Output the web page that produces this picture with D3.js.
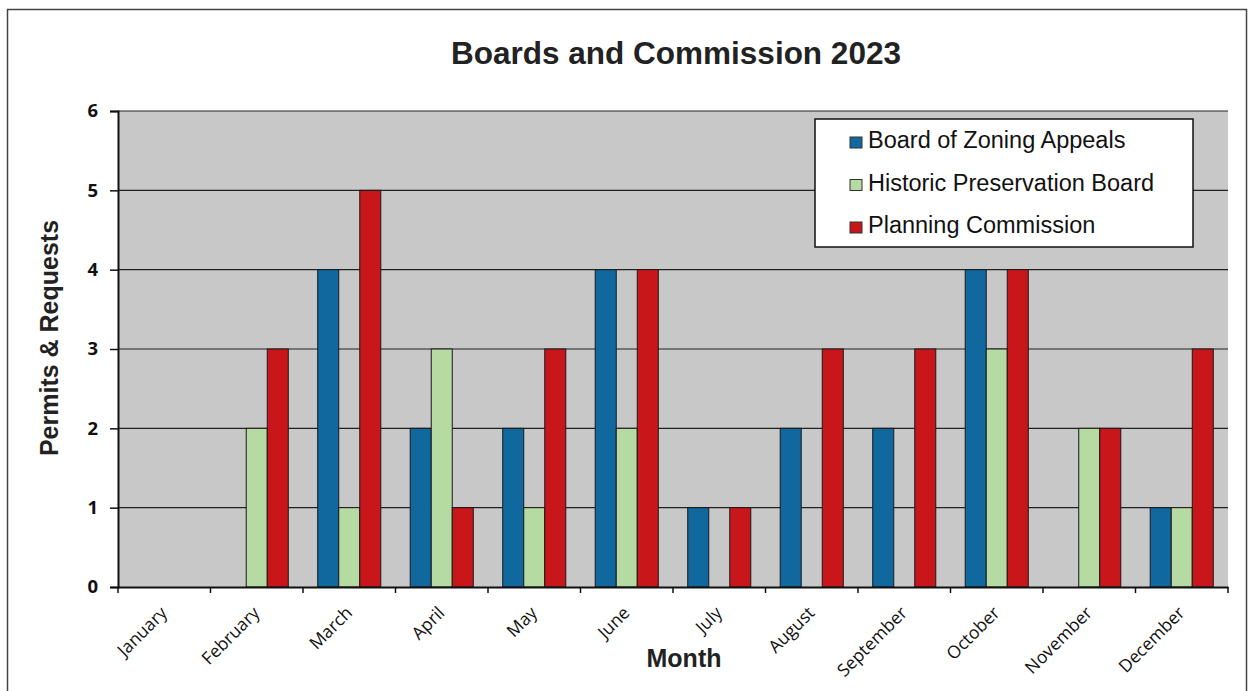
<!DOCTYPE html>
<html><head><meta charset="utf-8">
<script src="https://cdn.jsdelivr.net/npm/d3@7"></script>
<style>body{margin:0;background:#fff}svg{display:block}</style>
</head><body>
<svg id="chart" width="1255" height="691"></svg>
<script>
const months = ["January","February","March","April","May","June","July","August","September","October","November","December"];
const seriesNames = ["Board of Zoning Appeals","Historic Preservation Board","Planning Commission"];
const zoning = [0,0,4,2,2,4,1,2,2,4,0,1];
const historic = [0,2,1,3,1,2,0,0,0,3,2,1];
const planning = [0,3,5,1,3,4,1,3,3,4,2,3];
const yTicks = [0,1,2,3,4,5,6];
const colors = ["#10689f","#b5dba2","#c9161b"];

const svg = d3.select("#chart");
const m = {left:118, right:1228, top:111, bottom:587};
svg.append("rect").attr("x",7.5).attr("y",9.5).attr("width",1239).attr("height",700)
  .attr("fill","#fff").attr("stroke","#444").attr("stroke-width",1.5);

const x = d3.scaleBand().domain(months).range([m.left,m.right]);
const xs = d3.scaleBand().domain(seriesNames).range([0,x.bandwidth()]).paddingOuter(0.7).paddingInner(0);
const y = d3.scaleLinear().domain([0,6]).range([m.bottom,m.top]);

svg.append("rect").attr("x",m.left).attr("y",m.top).attr("width",m.right-m.left).attr("height",m.bottom-m.top).attr("fill","#c8c8c8");

// gridlines
svg.append("g").selectAll("line").data(yTicks.filter(d=>d>0)).join("line")
  .attr("x1",m.left).attr("x2",m.right).attr("y1",d=>y(d)).attr("y2",d=>y(d))
  .attr("stroke","#222").attr("stroke-width",1.2);

const data = [zoning,historic,planning];
const g = svg.append("g");
months.forEach((mo,i)=>{
  seriesNames.forEach((s,j)=>{
    const v = data[j][i];
    if(v<=0) return;
    g.append("rect").attr("x",x(mo)+xs(s)).attr("y",y(v)).attr("width",xs.bandwidth()).attr("height",y(0)-y(v))
      .attr("fill",colors[j]).attr("stroke","#1a1a1a").attr("stroke-width",1);
  });
});

// y axis
const yAxis = d3.axisLeft(y).tickValues(yTicks).tickSize(8).tickPadding(12).tickFormat(d3.format("d"));
const ya = svg.append("g").attr("transform",`translate(${m.left},0)`).call(yAxis);
ya.attr("font-size",null).attr("font-family",null);
ya.select(".domain").attr("stroke","#111").attr("stroke-width",2);
ya.selectAll(".tick line").attr("stroke","#111").attr("stroke-width",1.5);
ya.selectAll("text").style("font-family","'Open Sans',sans-serif").style("font-weight","bold").style("font-size","18.5px").attr("fill","#111");

// x axis
const xa = svg.append("g").attr("transform",`translate(0,${m.bottom})`)
  .call(d3.axisBottom(x).tickSize(0).tickPadding(0));
xa.attr("font-size",null).attr("font-family",null);
xa.select(".domain").attr("stroke","#111").attr("stroke-width",2);
xa.selectAll(".tick line").remove();
svg.append("g").selectAll("line").data(d3.range(13)).join("line")
  .attr("x1",d=>m.left+d*x.step()).attr("x2",d=>m.left+d*x.step())
  .attr("y1",m.bottom).attr("y2",m.bottom+6).attr("stroke","#111").attr("stroke-width",1.5);
xa.selectAll(".tick text")
  .style("font-family","'Open Sans',sans-serif").style("font-size","17.5px").attr("fill","#111")
  .attr("text-anchor","end").attr("dy","0")
  .attr("transform","translate(4,27) rotate(-45)");

// title & axis titles
svg.append("text").attr("x",676).attr("y",64).attr("text-anchor","middle")
  .attr("font-family","'Liberation Sans',Arial,sans-serif").attr("font-weight","bold").attr("font-size",31.5).attr("fill","#222")
  .text("Boards and Commission 2023");
svg.append("text").attr("transform","translate(58,338) rotate(-90)").attr("text-anchor","middle")
  .attr("font-family","'Liberation Sans',Arial,sans-serif").attr("font-weight","bold").attr("font-size",25).attr("fill","#222")
  .text("Permits & Requests");
svg.append("text").attr("x",684).attr("y",667).attr("text-anchor","middle")
  .attr("font-family","'Liberation Sans',Arial,sans-serif").attr("font-weight","bold").attr("font-size",25).attr("fill","#222")
  .text("Month");

// legend
const lg = svg.append("g").attr("transform","translate(815,119)");
lg.append("rect").attr("width",378).attr("height",128).attr("fill","#fff").attr("stroke","#111").attr("stroke-width",1.5);
seriesNames.forEach((s,j)=>{
  const yy = 29 + j*42.5;
  lg.append("rect").attr("x",35).attr("y",yy-11).attr("width",12).attr("height",11).attr("fill",colors[j]).attr("stroke","#333").attr("stroke-width",1);
  lg.append("text").attr("x",53).attr("y",yy).attr("font-family","'Liberation Sans',Arial,sans-serif").attr("font-size",23.5).attr("fill","#111").text(s);
});
</script>
</body></html>
